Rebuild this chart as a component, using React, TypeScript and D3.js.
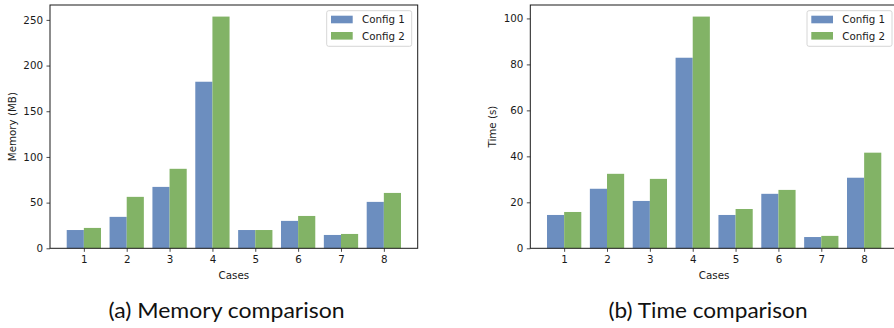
import React, { useEffect, useRef } from "react";
import * as d3 from "d3";

const cases = [1, 2, 3, 4, 5, 6, 7, 8];
const seriesNames = ["Config 1", "Config 2"];
const seriesColors = ["#6c8ebf", "#82b366"];

const memoryConfig1 = [20, 34.4, 67.2, 182.3, 20, 30, 14.6, 50.8];
const memoryConfig2 = [22.3, 56.3, 87, 253.6, 20, 35.4, 15.7, 60.6];

const timeConfig1 = [14.5, 25.9, 20.6, 82.9, 14.5, 23.7, 4.9, 30.7];
const timeConfig2 = [15.8, 32.4, 30.2, 100.8, 17.1, 25.4, 5.4, 41.6];

const captions = ["(a) Memory comparison", "(b) Time comparison"];

const W = 894;
const H = 328;
const FONT = "DejaVu Sans, sans-serif";
const FS = 10.3;

interface Panel {
    left: number;
    right: number;
    ylabel: string;
    ylabelX: number;
    a: number[];
    b: number[];
    caption: string;
    captionX: number;
    captionW: number;
}

const panels: Panel[] = [
    { left: 50, right: 417.7, ylabel: "Memory (MB)", ylabelX: 12.5, a: memoryConfig1, b: memoryConfig2, caption: captions[0], captionX: 226.5, captionW: 236 },
    { left: 530.3, right: 898, ylabel: "Time (s)", ylabelX: 492, a: timeConfig1, b: timeConfig2, caption: captions[1], captionX: 708, captionW: 199 },
];

export default function App() {
    const svgRef = useRef<SVGSVGElement | null>(null);

    function drawPanel(svg: d3.Selection<SVGSVGElement, unknown, null, undefined>, p: Panel) {
        const top = 5;
        const bottom = 248.3;

        const x = d3.scaleLinear().domain([0.21, 8.79]).range([p.left, p.right]);
        const ymax = d3.max(p.b.concat(p.a))! * 1.05;
        const y = d3.scaleLinear().domain([0, ymax]).range([bottom, top]);
        const bw = x(0.4) - x(0);

        const g = svg.append("g");

        // bars
        [p.a, p.b].forEach((vals, si) => {
            g.append("g")
                .selectAll("rect")
                .data(vals)
                .join("rect")
                .attr("x", (d, i) => x(cases[i] + (si === 0 ? -0.4 : 0)))
                .attr("y", d => y(d))
                .attr("width", bw)
                .attr("height", d => bottom - y(d))
                .attr("fill", seriesColors[si]);
        });

        // axes
        const xAxis = d3.axisBottom(x).tickValues(cases).tickSize(3.5).tickPadding(3.5).tickFormat(d3.format("d"));
        const yAxis = d3.axisLeft(y).ticks(6).tickSize(3.5).tickPadding(3.5);

        const xg = g.append("g").attr("transform", `translate(0,${bottom})`).call(xAxis);
        const yg = g.append("g").attr("transform", `translate(${p.left},0)`).call(yAxis);
        [xg, yg].forEach(ax => {
            ax.select(".domain").remove();
            ax.selectAll("text").attr("font-family", FONT).attr("font-size", FS).attr("fill", "#1a1a1a");
            ax.selectAll("line").attr("stroke", "#1a1a1a").attr("stroke-width", 0.8);
        });

        // frame
        g.append("rect")
            .attr("x", p.left)
            .attr("y", top)
            .attr("width", p.right - p.left)
            .attr("height", bottom - top)
            .attr("fill", "none")
            .attr("stroke", "#1a1a1a")
            .attr("stroke-width", 1);

        // axis labels
        g.append("text")
            .attr("x", (p.left + p.right) / 2)
            .attr("y", 278.5)
            .attr("text-anchor", "middle")
            .attr("font-family", FONT)
            .attr("font-size", FS)
            .attr("fill", "#1a1a1a")
            .text("Cases");

        g.append("text")
            .attr("transform", `translate(${p.ylabelX + 3.5},${(top + bottom) / 2}) rotate(-90)`)
            .attr("text-anchor", "middle")
            .attr("font-family", FONT)
            .attr("font-size", FS)
            .attr("fill", "#1a1a1a")
            .text(p.ylabel);

        // legend
        const lw = 85;
        const lx = Math.min(p.right, 898) - 6 - lw;
        const legend = g.append("g").attr("transform", `translate(${lx},10.7)`);
        legend.append("rect")
            .attr("width", lw)
            .attr("height", 35.6)
            .attr("rx", 2)
            .attr("fill", "white")
            .attr("fill-opacity", 0.8)
            .attr("stroke", "#cccccc")
            .attr("stroke-width", 0.8);
        seriesNames.forEach((name, i) => {
            legend.append("rect")
                .attr("x", 4.3)
                .attr("y", 5 + i * 16.3)
                .attr("width", 21.7)
                .attr("height", 7.6)
                .attr("fill", seriesColors[i]);
            legend.append("text")
                .attr("x", 35.3)
                .attr("y", 12.6 + i * 16.3)
                .attr("font-family", FONT)
                .attr("font-size", FS)
                .attr("fill", "#1a1a1a")
                .text(name);
        });

        // caption
        svg.append("text")
            .attr("x", p.captionX)
            .attr("y", 318)
            .attr("text-anchor", "middle")
            .attr("font-family", "Lato, sans-serif")
            .attr("font-size", 21)
            .attr("textLength", p.captionW)
            .attr("lengthAdjust", "spacingAndGlyphs")
            .attr("fill", "#111")
            .text(p.caption);
    }

    useEffect(() => {
        if (!svgRef.current) return;
        const svg = d3.select(svgRef.current);
        svg.selectAll("*").remove();
        panels.forEach(p => drawPanel(svg, p));
    }, []);

    return (
        <svg
            ref={svgRef}
            width={W}
            height={H}
            viewBox={`0 0 ${W} ${H}`}
            style={{ position: "absolute", left: 0, top: 0, background: "white", display: "block" }}
        />
    );
}
